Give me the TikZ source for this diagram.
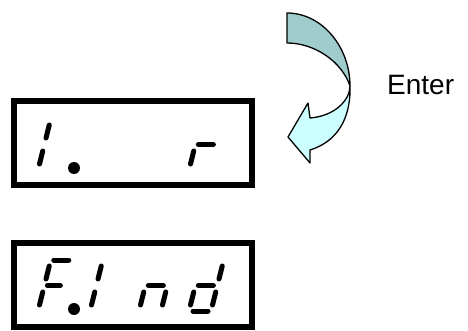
\documentclass[tikz,border=0pt]{standalone}
\usepackage{fontspec}
\setmainfont{Liberation Sans}
\definecolor{arrowback}{RGB}{160,205,204}
\definecolor{arrowfront}{RGB}{204,255,255}

\begin{document}
\begin{tikzpicture}[x=1pt, y=-1pt,
		seg/.style={line width=5pt, line cap=round},
		lcd/.style={line width=6pt},
		flow/.style={draw=black, line width=1.3pt, line join=round}]
		\useasboundingbox (0, 0) rectangle (468, 331);
		
		% the two displays
		\draw[lcd] (14, 101) rectangle (252, 185);
		\draw[lcd] (14, 243) rectangle (252, 327);
		
		% upper display: "1.   r"
		\begin{scope}[shift={(38, 170)}, xslant=0.25]
			\draw[seg] (0, -45) -- (0, -32);
			\draw[seg] (0, -19) -- (0, -6);
		\end{scope}
		\fill (74, 168) circle[radius=6pt];
		\begin{scope}[shift={(189, 170)}, xslant=0.25]
			\draw[seg] (3, -25.5) -- (18, -25.5);
			\draw[seg] (0, -19) -- (0, -6);
		\end{scope}
		
		% lower display: "F.1nd"
		\begin{scope}[shift={(38, 311)}, xslant=0.25]
			\draw[seg] (3, -51) -- (18, -51);
			\draw[seg] (0, -45) -- (0, -32);
			\draw[seg] (3, -25.5) -- (16, -25.5);
			\draw[seg] (0, -19) -- (0, -6);
		\end{scope}
		\fill (74, 309) circle[radius=6pt];
		\begin{scope}[shift={(90, 311)}, xslant=0.25]
			\draw[seg] (0, -45) -- (0, -32);
			\draw[seg] (0, -19) -- (0, -6);
		\end{scope}
		\begin{scope}[shift={(139, 311)}, xslant=0.25]
			\draw[seg] (3, -25.5) -- (18, -25.5);
			\draw[seg] (0, -19) -- (0, -6);
			\draw[seg] (22, -19) -- (22, -6);
		\end{scope}
		\begin{scope}[shift={(189, 311)}, xslant=0.25]
			\draw[seg] (22, -45) -- (22, -32);
			\draw[seg] (3, -25.5) -- (18, -25.5);
			\draw[seg] (0, -19) -- (0, -6);
			\draw[seg] (22, -19) -- (22, -6);
			\draw[seg] (4, 0) -- (19, 0);
		\end{scope}
		
		% curved arrow, back part then front part
		\draw[flow, fill=arrowback] (287, 13) .. controls (322, 13) and (350, 47) .. (350, 86)
			.. controls (342, 62) and (315, 43) .. (287, 43) -- cycle;
		\draw[flow, fill=arrowfront] (350, 86) .. controls (350, 100) and (335, 116) .. (310, 118)
			-- (308, 103) -- (288, 137) -- (310, 163) -- (310, 150)
			.. controls (336, 142) and (351, 120) .. (350, 86) -- cycle;
		
		\node[anchor=base west, font=\fontsize{28}{30}\selectfont, inner sep=0pt] (enter) at (387, 95) {Enter};
	\end{tikzpicture}
\end{document}
